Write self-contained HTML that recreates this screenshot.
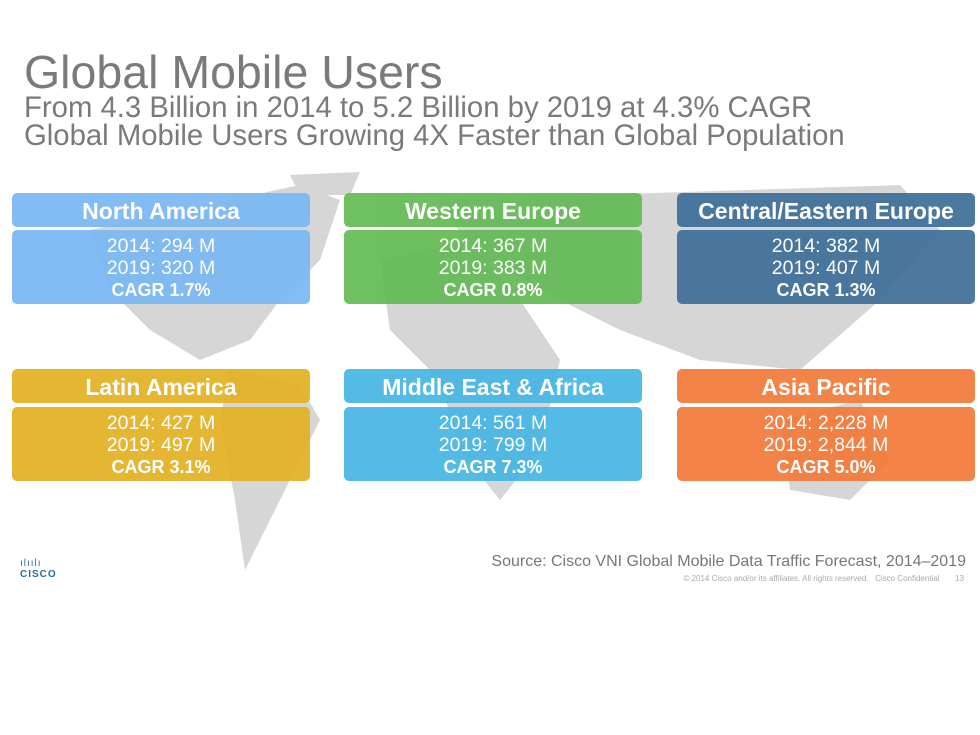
<!DOCTYPE html>
<html><head><style>
body{margin:0;width:980px;height:735px;background:#fff;font-family:"Liberation Sans",sans-serif;position:relative;overflow:hidden}
.t{position:absolute;left:24px;color:#7a7a7a;white-space:nowrap}
.h{position:absolute;height:34px;border-radius:5px;color:#fff;font-weight:bold;font-size:23px;text-align:center;line-height:36px;opacity:.93}
.b{position:absolute;height:74px;border-radius:5px;color:#fff;font-size:19.5px;text-align:center;line-height:22px;padding-top:5px;box-sizing:border-box;opacity:.93}
.b b{display:block;font-size:18px}
</style></head><body>
<svg style="position:absolute;left:0;top:0" width="980" height="735">
<g fill="#d6d6d6">
<path d="M90 230 L300 185 L340 200 L320 260 L280 300 L250 340 L200 360 L150 330 L110 290Z"/>
<path d="M230 370 L300 385 L320 420 L290 480 L260 540 L245 570 L235 500 L220 420Z"/>
<path d="M380 260 L470 240 L520 300 L560 360 L540 450 L500 500 L460 450 L440 380 L390 330Z"/>
<path d="M440 200 L900 185 L940 230 L880 300 L800 370 L700 360 L620 330 L560 300 L470 250Z"/>
<path d="M780 420 L860 400 L890 460 L850 500 L790 490Z"/>
<path d="M290 175 L360 172 L350 195 L300 195Z"/>
</g>
</svg>
<div class="t" style="top:45px;font-size:46.5px">Global Mobile Users</div>
<div class="t" style="top:91px;font-size:29.3px">From 4.3 Billion in 2014 to 5.2 Billion by 2019 at 4.3% CAGR</div>
<div class="t" style="top:119px;font-size:29.3px">Global Mobile Users Growing 4X Faster than Global Population</div>

<div class="h" style="left:12px;top:193px;width:298px;background:#7ab8f4">North America</div>
<div class="b" style="left:12px;top:230px;width:298px;background:#7ab8f4">2014: 294 M<br>2019: 320 M<b>CAGR 1.7%</b></div>
<div class="h" style="left:344px;top:193px;width:298px;background:#63bb55">Western Europe</div>
<div class="b" style="left:344px;top:230px;width:298px;background:#63bb55">2014: 367 M<br>2019: 383 M<b>CAGR 0.8%</b></div>
<div class="h" style="left:677px;top:193px;width:298px;background:#3f6f99">Central/Eastern Europe</div>
<div class="b" style="left:677px;top:230px;width:298px;background:#3f6f99">2014: 382 M<br>2019: 407 M<b>CAGR 1.3%</b></div>

<div class="h" style="left:12px;top:369px;width:298px;background:#e2b123">Latin America</div>
<div class="b" style="left:12px;top:407px;width:298px;background:#e2b123">2014: 427 M<br>2019: 497 M<b>CAGR 3.1%</b></div>
<div class="h" style="left:344px;top:369px;width:298px;background:#48b5e5">Middle East &amp; Africa</div>
<div class="b" style="left:344px;top:407px;width:298px;background:#48b5e5">2014: 561 M<br>2019: 799 M<b>CAGR 7.3%</b></div>
<div class="h" style="left:677px;top:369px;width:298px;background:#f47a3a">Asia Pacific</div>
<div class="b" style="left:677px;top:407px;width:298px;background:#f47a3a">2014: 2,228 M<br>2019: 2,844 M<b>CAGR 5.0%</b></div>

<div style="position:absolute;left:20px;top:558px;color:#1e6fa8;font-size:10px;letter-spacing:1px">ılıılı<br><b style="font-size:10px">CISCO</b></div>
<div style="position:absolute;right:14px;top:553px;color:#777;font-size:16px">Source: Cisco VNI Global Mobile Data Traffic Forecast, 2014–2019</div>
<div style="position:absolute;right:16px;top:574px;color:#aaa;font-size:8px">© 2014 Cisco and/or its affiliates. All rights reserved. &nbsp; Cisco Confidential &nbsp; &nbsp; &nbsp; 13</div>
</body></html>
